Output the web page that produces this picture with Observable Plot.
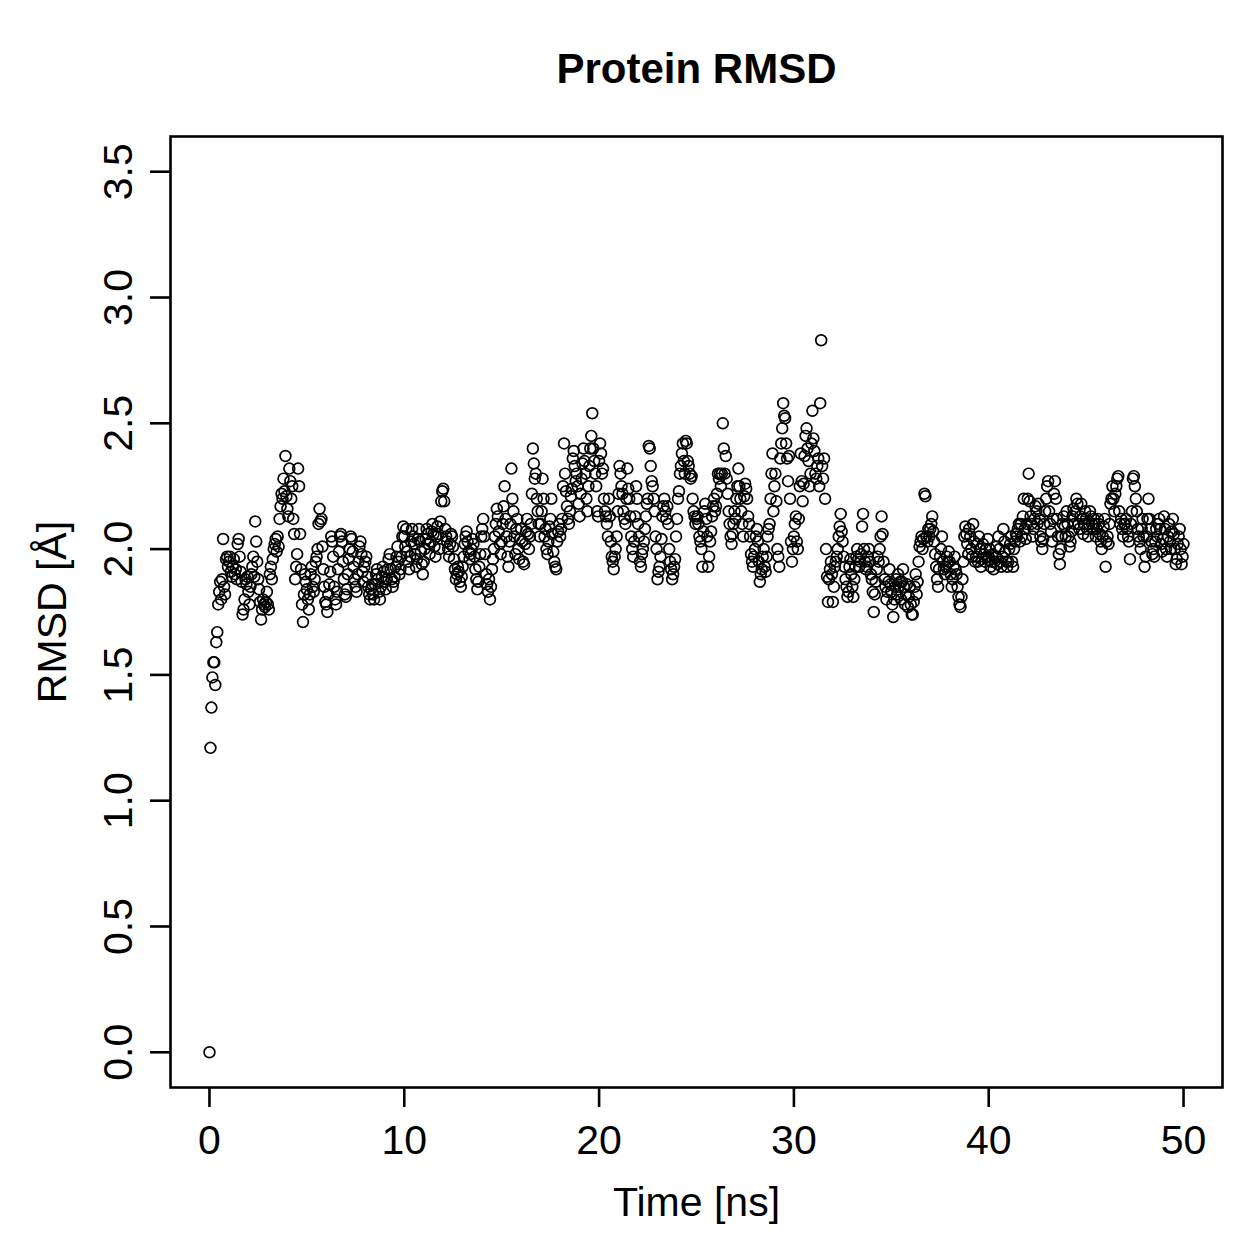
<!DOCTYPE html>
<html>
<head>
<meta charset="utf-8">
<script src="https://cdn.jsdelivr.net/npm/d3@7"></script>
<script src="https://cdn.jsdelivr.net/npm/@observablehq/plot@0.6"></script>
<style>
  html, body { margin: 0; padding: 0; background: #fff; }
  #chart svg { display: block; }
</style>
</head>
<body>
<div id="chart"></div>
<script>
// Sampling step of the trajectory (ns)
const timeStep = 0.05;

// RMSD values (Å), one row per ns (20 frames per ns)
const rmsd = [
  0.00,1.21,1.37,1.49,1.55,1.55,1.46,1.63,1.67,1.78, 1.83,1.87,1.80,1.88,2.04,1.85,1.82,1.96,1.97,1.93,
  1.95,1.97,1.91,1.89,1.93,1.96,1.90,1.92,1.88,2.02, 2.04,1.97,1.91,1.87,1.74,1.76,1.80,1.88,1.86,1.89,
  1.83,1.78,1.85,1.90,1.93,1.97,1.89,2.11,2.03,1.95, 1.88,1.84,1.79,1.72,1.76,1.80,1.78,1.77,1.79,1.83,
  1.78,1.76,1.90,1.93,1.88,1.96,2.00,2.02,2.04,1.99, 2.05,2.01,2.12,2.17,2.22,2.20,2.28,2.23,2.37,2.21,
  2.16,2.13,2.32,2.27,2.20,2.25,2.12,2.06,1.88,1.93, 1.98,2.32,2.25,2.06,1.92,1.78,1.71,1.82,1.90,1.87,
  1.84,1.80,1.76,1.82,1.90,1.93,1.85,1.83,1.88,1.95, 1.97,2.00,2.10,2.16,2.11,2.12,2.01,1.92,1.85,1.79,
  1.78,1.75,1.82,1.86,1.91,2.05,2.03,1.97,1.85,1.80, 1.78,1.83,1.92,1.99,2.05,2.06,2.03,1.95,1.88,1.82,
  1.81,1.84,1.90,1.96,2.00,2.05,2.04,1.99,1.93,1.88, 1.85,1.83,1.90,1.95,2.01,2.03,1.98,1.91,1.87,1.93,
  1.95,1.97,1.89,1.85,1.82,1.80,1.84,1.86,1.82,1.80, 1.86,1.90,1.92,1.88,1.83,1.80,1.85,1.89,1.93,1.91,
  1.87,1.84,1.88,1.92,1.96,1.98,1.92,1.88,1.85,1.87, 1.89,1.93,1.97,2.01,1.95,1.90,1.92,1.97,2.05,2.09,
  2.05,2.01,2.08,1.99,1.95,1.92,1.97,2.03,2.08,2.05, 2.02,1.98,1.93,1.96,2.04,2.08,2.03,1.99,1.94,1.90,
  1.95,2.00,2.04,2.08,2.06,2.02,1.98,2.03,2.07,2.10, 2.06,2.01,1.97,2.05,2.09,2.06,2.00,2.11,2.19,2.23,
  2.24,2.19,2.08,2.05,2.03,2.00,1.97,2.02,2.06,2.05, 2.01,1.96,1.92,1.88,1.90,1.93,1.91,1.87,1.85,1.89,
  1.93,1.97,2.02,2.05,2.07,2.03,1.99,1.96,1.98,2.00, 2.04,2.02,1.97,1.92,1.88,1.84,1.87,1.93,1.98,2.05,
  2.08,2.12,2.05,1.98,1.90,1.86,1.83,1.88,1.80,1.85, 1.92,1.96,2.00,2.05,2.10,2.16,2.13,2.07,2.02,1.98,
  2.03,2.10,2.17,2.25,2.12,2.05,1.97,1.93,2.03,2.10, 2.32,2.20,2.15,2.05,1.98,2.08,2.12,2.00,1.96,2.04,
  2.08,2.03,1.95,1.94,2.02,2.07,2.12,2.06,2.00,2.05, 2.10,2.22,2.40,2.34,2.28,2.30,2.20,2.15,2.10,2.05,
  2.10,2.15,2.28,2.20,2.05,2.08,2.00,1.98,2.03,2.09, 2.12,2.20,2.06,1.99,1.95,1.93,1.92,2.03,2.07,2.10,
  2.05,2.08,2.12,2.25,2.42,2.30,2.23,2.17,2.12,2.10, 2.15,2.21,2.24,2.36,2.39,2.33,2.27,2.30,2.25,2.18,
  2.13,2.22,2.28,2.34,2.40,2.35,2.30,2.20,2.15,2.25, 2.33,2.40,2.45,2.54,2.40,2.35,2.30,2.25,2.15,2.13,
  2.35,2.42,2.38,2.30,2.32,2.20,2.15,2.13,2.10,2.05, 2.20,2.13,2.03,1.97,1.95,1.92,1.97,2.00,2.05,2.15,
  2.22,2.33,2.30,2.25,2.22,2.15,2.12,2.10,2.20,2.32, 2.24,2.20,2.13,2.05,2.00,1.97,2.03,2.13,2.25,2.20,
  2.10,2.05,1.95,1.93,1.98,2.00,2.03,2.08,2.13,2.18, 2.20,2.41,2.40,2.33,2.27,2.25,2.20,2.15,2.05,2.00,
  1.88,1.91,1.93,1.97,2.04,2.13,2.17,2.20,2.15,2.12, 2.17,2.10,2.00,1.95,1.92,1.88,1.90,1.93,1.96,2.05,
  2.12,2.20,2.23,2.30,2.33,2.38,2.42,2.35,2.30,2.43, 2.42,2.35,2.33,2.30,2.28,2.29,2.20,2.15,2.13,2.10,
  2.12,2.13,2.10,2.05,2.03,2.00,1.93,2.07,2.15,2.18, 2.12,2.05,1.93,1.97,2.03,2.07,2.13,2.17,2.20,2.15,
  2.17,2.22,2.30,2.28,2.30,2.25,2.30,2.50,2.40,2.30, 2.37,2.28,2.22,2.15,2.10,2.05,2.02,2.06,2.10,2.15,
  2.12,2.20,2.25,2.32,2.25,2.20,2.15,2.10,2.05,2.21, 2.26,2.24,2.20,2.13,2.10,2.05,1.98,1.95,1.93,1.97,
  2.00,2.05,2.08,2.03,1.95,1.87,1.90,1.92,1.97,2.00, 1.93,1.91,1.97,2.05,2.08,2.10,2.20,2.30,2.38,2.15,
  2.25,2.30,2.19,2.00,1.97,1.93,2.36,2.42,2.48,2.58, 2.53,2.52,2.42,2.36,2.27,2.37,2.20,2.03,1.95,2.00,
  2.05,2.10,2.13,2.03,2.00,2.12,2.25,2.38,2.27,2.19, 2.26,2.37,2.45,2.48,2.40,2.35,2.25,2.30,2.42,2.55,
  2.44,2.39,2.30,2.28,2.33,2.36,2.25,2.58,2.83,2.33, 2.28,2.36,2.20,2.00,1.89,1.79,1.88,1.92,1.95,1.90,
  1.79,1.85,1.93,1.95,1.97,2.00,2.05,2.09,2.14,2.07, 2.03,1.97,1.93,1.88,1.85,1.81,1.83,1.93,1.96,1.90,
  1.85,1.81,1.88,1.93,1.97,2.00,1.96,1.93,1.95,1.98, 2.09,2.14,2.00,1.95,1.92,1.93,1.97,2.00,1.95,1.90,
  1.88,1.83,1.75,1.82,1.87,1.92,1.97,1.95,2.00,2.05, 2.13,2.06,1.95,1.88,1.85,1.80,1.83,1.87,1.92,1.86,
  1.83,1.78,1.73,1.80,1.85,1.88,1.82,1.90,1.85,1.87, 1.80,1.87,1.92,1.85,1.78,1.82,1.86,1.77,1.81,1.85,
  1.78,1.74,1.74,1.79,1.85,1.90,1.82,1.87,1.95,2.01, 2.03,2.05,2.00,2.04,2.22,2.21,2.05,2.03,2.08,2.05,
  2.08,2.10,2.13,2.07,2.03,1.98,1.93,1.88,1.85,1.92, 1.97,2.00,2.05,1.95,1.92,1.90,1.93,1.97,1.95,1.99,
  1.95,1.90,1.85,1.88,1.93,1.97,1.92,1.90,1.85,1.81, 1.78,1.77,1.81,1.88,1.95,2.05,2.09,2.06,2.02,1.98,
  2.08,2.05,2.00,1.97,2.10,2.03,1.95,1.97,2.02,1.95, 2.05,2.00,1.93,1.96,2.02,1.98,1.95,2.00,1.97,2.04,
  1.97,2.00,1.93,1.95,1.98,1.92,1.95,1.97,2.01,1.94, 2.05,2.00,1.95,1.93,1.97,2.08,2.03,1.99,1.95,1.93,
  1.95,2.00,2.02,2.05,1.95,1.93,2.00,2.03,2.06,2.05, 2.08,2.10,2.03,2.10,2.05,2.13,2.20,2.08,2.04,2.10,
  2.20,2.30,2.19,2.13,2.10,2.05,2.08,2.12,2.17,2.15, 2.10,2.18,2.12,2.05,2.03,2.00,2.04,2.10,2.15,2.20,
  2.25,2.27,2.15,2.10,2.07,2.03,2.12,2.22,2.27,2.20, 2.12,2.05,1.98,1.94,2.00,2.05,2.10,2.13,2.09,2.05,
  2.15,2.10,2.05,2.01,2.03,2.07,2.13,2.16,2.10,2.15, 2.20,2.18,2.10,2.08,2.13,2.18,2.12,2.06,2.10,2.15,
  2.12,2.08,2.05,2.10,2.15,2.13,2.10,2.08,2.12,2.10, 2.05,2.08,2.12,2.10,2.06,2.03,2.00,2.05,2.09,2.12,
  1.93,2.03,2.05,2.02,2.10,2.18,2.20,2.25,2.20,2.15, 2.22,2.25,2.28,2.29,2.15,2.10,2.12,2.08,2.05,2.10,
  2.10,2.12,2.08,2.05,2.03,1.96,2.10,2.15,2.28,2.29, 2.25,2.20,2.15,2.08,2.05,2.03,2.00,2.08,2.12,2.05,
  1.93,1.97,2.05,2.12,2.20,2.12,2.08,2.03,1.98,2.00, 1.97,2.03,2.08,2.05,2.10,2.12,2.08,2.02,1.99,2.04,
  2.13,2.08,2.00,1.97,2.05,2.10,2.03,2.00,2.07,2.12, 2.06,2.00,1.94,1.96,2.02,2.05,2.08,2.00,1.94,1.97,
  2.02
];

// Axis ticks and labels
const xTicks = [0, 10, 20, 30, 40, 50];
const yTicks = [0.0, 0.5, 1.0, 1.5, 2.0, 2.5, 3.0, 3.5];
const titleText = "Protein RMSD";
const xLabel = "Time [ns]";
const yLabel = "RMSD [Å]";

const data = rmsd.map((v, i) => ({time: i * timeStep, rmsd: v}));

const fontFamily = "'Liberation Sans', Arial, Helvetica, sans-serif";
const fs = 41;

const chart = Plot.plot({
  width: 1259,
  height: 1259,
  marginLeft: 170,
  marginRight: 37,
  marginTop: 136,
  marginBottom: 172,
  style: {fontFamily, background: "white", color: "black"},
  x: {domain: [-2, 52], axis: null},
  y: {domain: [-0.14, 3.64], axis: null},
  marks: [
    Plot.frame({stroke: "black", strokeWidth: 2.6}),
    Plot.dot(data, {x: "time", y: "rmsd", r: 5.4, stroke: "black", strokeWidth: 1.7, fill: "none"}),
    // x axis ticks + labels
    Plot.axisX({ticks: xTicks, tickSize: 20, tickFormat: () => "", label: null, strokeWidth: 2.6}),
    Plot.text(xTicks, {x: d => d, frameAnchor: "bottom", dy: 66, textAnchor: "middle", text: d => String(d), fontSize: fs}),
    // y axis ticks + labels
    Plot.axisY({ticks: yTicks, tickSize: 20, tickFormat: () => "", label: null, strokeWidth: 2.6}),
    Plot.text(yTicks, {y: d => d, frameAnchor: "left", dx: -52, rotate: -90, textAnchor: "middle", text: d => d.toFixed(1), fontSize: fs}),
    // Titles
    Plot.text([titleText], {frameAnchor: "top", dy: -83, textAnchor: "middle", text: d => d, fontSize: 42, fontWeight: "bold"}),
    Plot.text([xLabel], {frameAnchor: "bottom", dy: 128, textAnchor: "middle", text: d => d, fontSize: fs}),
    Plot.text([yLabel], {frameAnchor: "left", dx: -118, rotate: -90, textAnchor: "middle", text: d => d, fontSize: fs})
  ]
});

document.getElementById("chart").appendChild(chart);
</script>
</body>
</html>
